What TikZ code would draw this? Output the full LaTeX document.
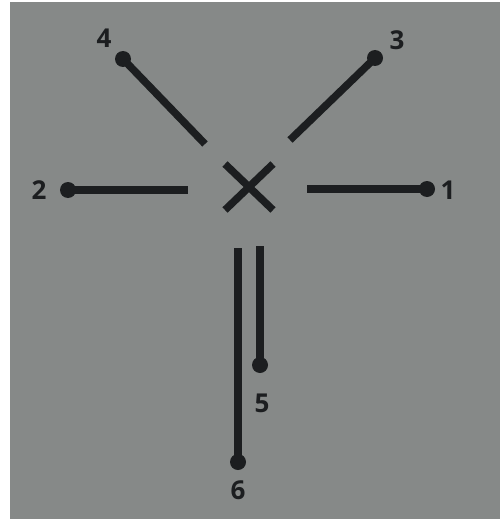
\documentclass[tikz,border=0pt]{standalone}
\usepackage{fontspec}
\setmainfont{Open Sans}
\definecolor{bggray}{RGB}{134,137,136}
\definecolor{ink}{RGB}{28,30,32}
\tikzset{
  pin/.style={circle,fill=ink,inner sep=0pt,minimum size=16pt},
  lbl/.style={font=\bfseries\fontsize{26}{26}\selectfont,text=ink,inner sep=0pt},
  stroke/.style={draw=ink,line width=7.5pt}
}
\begin{document}
\begin{tikzpicture}[x=1pt,y=-1pt]
			\useasboundingbox (0,0) rectangle (500,519);
			\fill[white] (0,0) rectangle (500,519);
			\fill[bggray] (10,2) rectangle (500,519);
			% the cross
			\coordinate (xa) at (225,164);
			\coordinate (xb) at (273,210);
			\coordinate (xc) at (273,164);
			\coordinate (xd) at (225,210);
			\draw[stroke] (xa) -- (xb);
			\draw[stroke] (xc) -- (xd);
			% pins
			\node[pin] (p1) at (427,189) {};
			\node[pin] (p2) at (68,190) {};
			\node[pin] (p3) at (375,58) {};
			\node[pin] (p4) at (123,59) {};
			\node[pin] (p5) at (260,365) {};
			\node[pin] (p6) at (238,462) {};
			\coordinate (e1) at (307,189);
			\coordinate (e2) at (188,190);
			\coordinate (e3) at (290,140);
			\coordinate (e4) at (205,144);
			\coordinate (e5) at (260,246);
			\coordinate (e6) at (238,248);
			\draw[stroke] (p1.center) -- (e1);
			\draw[stroke] (p2.center) -- (e2);
			\draw[stroke] (p3.center) -- (e3);
			\draw[stroke] (p4.center) -- (e4);
			\draw[stroke] (p5.center) -- (e5);
			\draw[stroke] (p6.center) -- (e6);
			% labels
			\node[lbl] (l1) at (448,190) {1};
			\node[lbl] (l2) at (39,190) {2};
			\node[lbl] (l3) at (397,40) {3};
			\node[lbl] (l4) at (104,38) {4};
			\node[lbl] (l5) at (262,403) {5};
			\node[lbl] (l6) at (238,490) {6};
		\end{tikzpicture}
\end{document}
